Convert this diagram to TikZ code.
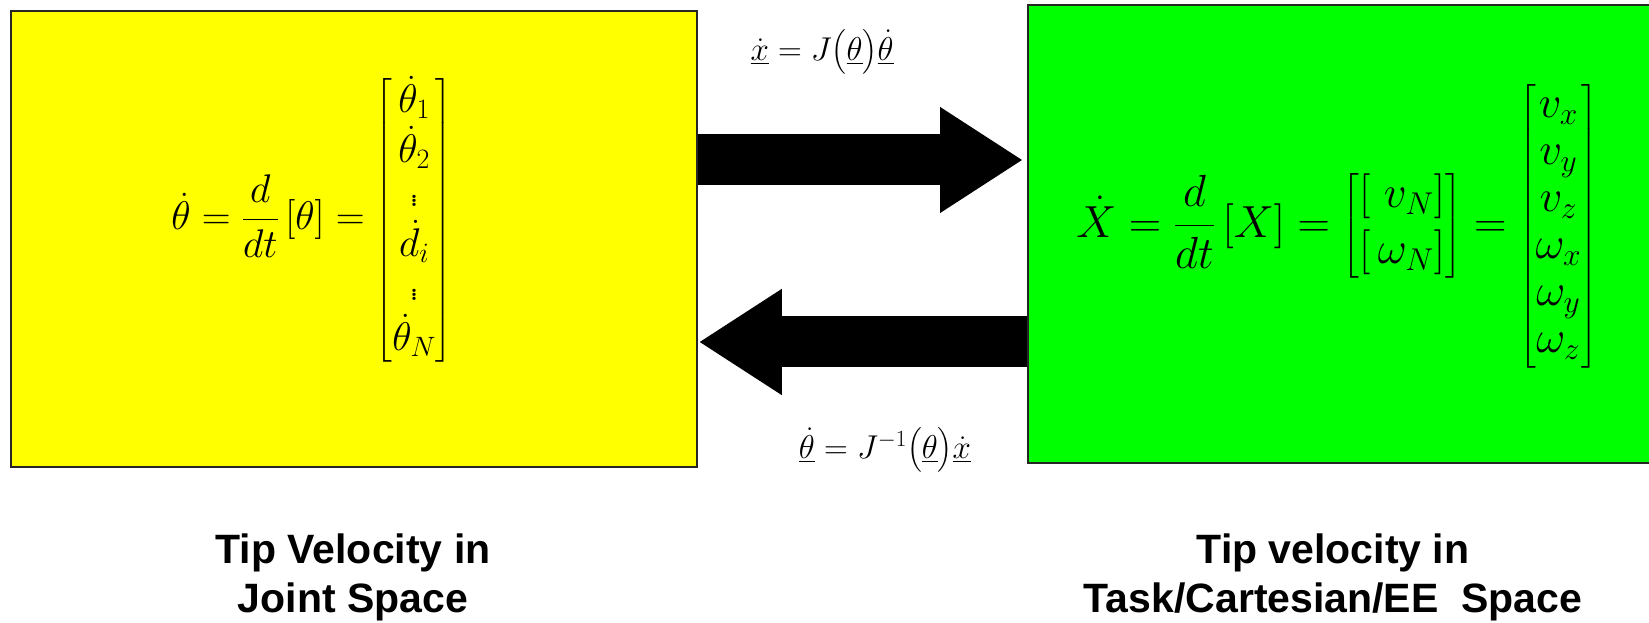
\RequirePackage{fix-cm}
\documentclass[tikz,border=0pt]{standalone}
\usepackage{amsmath}
\usepackage{fontspec}
\newfontfamily\labelfont{Liberation Sans}
\usetikzlibrary{arrows.meta,positioning}

\definecolor{jointyellow}{RGB}{255,255,0}
\definecolor{taskgreen}{RGB}{0,255,0}
\tikzset{
  spacebox/.style={draw=black!85,line width=2pt,inner sep=0pt},
  bigarrow/.style={line width=51pt,-{Triangle[length=83pt,width=100pt]}},
  caption/.style={font=\labelfont\bfseries\fontsize{41}{49}\selectfont,align=center},
  eqn/.style={font=\fontsize{40}{44}\selectfont},
  rel/.style={font=\fontsize{33}{38}\selectfont}
}

\begin{document}
\begin{tikzpicture}[x=1pt,y=1pt]
\useasboundingbox (0,0) rectangle (1649,623);
% joint space and task space
\node[spacebox,fill=jointyellow,minimum width=686pt,minimum height=456pt] (joint) at (353.75,384.25) {};
\node[spacebox,fill=taskgreen,minimum width=660pt,minimum height=458pt,anchor=north west] (task) at (1027,619) {};
\node[eqn] (jointeq) at (312,403) {\arraycolsep=12pt$\dot\theta=\dfrac{d}{dt}\,[\theta]=\begin{bmatrix}\dot\theta_1\\ \dot\theta_2\\ \vdots\\ \dot d_i\\ \vdots\\ \dot\theta_N\end{bmatrix}$};
\node[eqn,font=\fontsize{45}{47}\selectfont] (taskeq) at (1337,397) {\arraycolsep=14pt$\dot X=\dfrac{d}{dt}\,[X]=\begin{bmatrix}{[\ v_N]}\\[8pt] {[\,\omega_N]}\end{bmatrix}=\begin{bmatrix}v_x\\ v_y\\ v_z\\ \omega_x\\ \omega_y\\ \omega_z\end{bmatrix}$};
% block arrows between the spaces
\coordinate (hi) at (0,463);
\coordinate (lo) at (0,281);
\draw[bigarrow] (joint.east |- hi) -- ([xshift=-4pt]task.west |- hi);
\draw[bigarrow] (task.west |- lo) -- ([xshift=1pt]joint.east |- lo);
\node[rel] (fwd) at (822,571) {$\underline{\dot x}=J\big(\underline{\theta}\big)\underline{\dot\theta}$};
\node[rel] (inv) at (885,173) {$\underline{\dot\theta}=J^{-1}\big(\underline{\theta}\big)\underline{\dot x}$};
% captions
\node[caption] (jointcap) at (353,46) {Tip Velocity in\\ Joint Space};
\node[caption] (taskcap) at (1333,46) {Tip velocity in\\ Task/Cartesian/EE\ \ Space};
\end{tikzpicture}
\end{document}
